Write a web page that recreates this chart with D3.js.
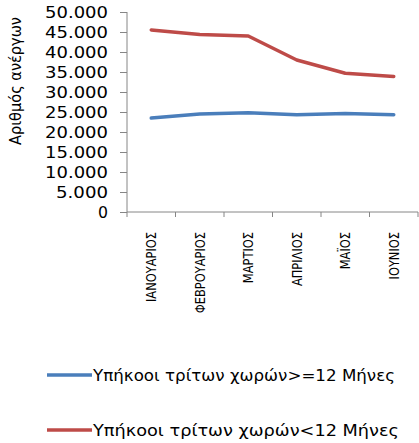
<!DOCTYPE html>
<html><head><meta charset="utf-8">
<script src="https://cdn.jsdelivr.net/npm/d3@7"></script>
<style>body{margin:0;background:#fff}svg{display:block}</style>
</head><body>
<script>
const months = ["ΙΑΝΟΥΑΡΙΟΣ","ΦΕΒΡΟΥΑΡΙΟΣ","ΜΑΡΤΙΟΣ","ΑΠΡΙΛΙΟΣ","ΜΑΪΟΣ","ΙΟΥΝΙΟΣ"];
const seriesLong = [23500, 24500, 24800, 24300, 24600, 24300];
const seriesShort = [45500, 44400, 44000, 38000, 34700, 33900];
const seriesNames = ["Υπήκοοι τρίτων χωρών>=12 Μήνες","Υπήκοοι τρίτων χωρών<12 Μήνες"];
const yTicks = [0,5000,10000,15000,20000,25000,30000,35000,40000,45000,50000];
const yTitle = "Αριθμός ανέργων";
const colors = ["#4A7EBB","#BE4B48"];

const W=419,H=443;
const svg=d3.select("body").append("svg").attr("width",W).attr("height",H);
const x=d3.scaleBand().domain(months).range([127,418]);
const y=d3.scaleLinear().domain([0,50000]).range([212,12]);
const axisColor="#868686";

const fmt=v=>d3.format(",")(v).replace(/,/g,".");
// y axis
const ya=svg.append("g").attr("transform","translate(127,0)")
  .call(d3.axisLeft(y).tickValues(yTicks).tickSize(7).tickPadding(0).tickFormat(fmt));
ya.select(".domain").attr("stroke",axisColor).attr("d","M0,12V212");
ya.selectAll(".tick line").attr("stroke",axisColor);
ya.selectAll(".tick text").remove();
ya.selectAll(".tick").append("text")
  .attr("x",-19).attr("y",0).attr("dy","0.36em").attr("text-anchor","end")
  .attr("fill","#000").attr("font-family","DejaVu Sans").attr("font-size",15.5)
  .text(d=>fmt(d)).each(function(d){
    const s=fmt(d); const w=s.length===1?10:(s.length===5?52:63);
    d3.select(this).attr("textLength",w).attr("lengthAdjust","spacingAndGlyphs");
  });

// x axis
const xa=svg.append("g").attr("transform","translate(0,212)")
  .call(d3.axisBottom(x).tickSize(0).tickFormat(""));
xa.select(".domain").attr("stroke",axisColor).attr("d","M127,0H418");
const tickPos=months.map(m=>x(m)).concat([x.range()[1]]);
xa.selectAll(".sep").data(tickPos).enter().append("line").attr("class","sep")
  .attr("x1",d=>d).attr("x2",d=>d).attr("y1",0).attr("y2",5).attr("stroke",axisColor);
const ml=svg.append("g").selectAll("text").data(months).enter().append("text")
  .attr("transform",d=>`translate(${x(d)+x.bandwidth()/2+5},232) rotate(-90)`)
  .attr("text-anchor","end").attr("font-family","DejaVu Sans Condensed, DejaVu Sans, sans-serif")
  .attr("font-size",14).attr("font-weight",500).attr("fill","#000").text(d=>d);
const base=ml.nodes()[0].getComputedTextLength();
const k=70/base;
ml.each(function(){const L=this.getComputedTextLength();d3.select(this).attr("textLength",L*k).attr("lengthAdjust","spacingAndGlyphs");});

// y title
svg.append("text").attr("transform","translate(21,81) rotate(-90)")
  .attr("text-anchor","middle").attr("font-family","DejaVu Sans").attr("font-size",15.5)
  .attr("textLength",128).attr("lengthAdjust","spacingAndGlyphs").text(yTitle);

// lines
const line=d3.line().x((d,i)=>x(months[i])+x.bandwidth()/2).y(d=>y(d));
[seriesLong,seriesShort].forEach((s,i)=>{
  svg.append("path").datum(s).attr("d",line).attr("fill","none")
    .attr("stroke",colors[i]).attr("stroke-width",3.5).attr("stroke-linecap","round").attr("stroke-linejoin","round");
});

// legend
const leg=[{y:375},{y:430}];
seriesNames.forEach((n,i)=>{
  svg.append("line").attr("x1",47).attr("x2",92).attr("y1",leg[i].y).attr("y2",leg[i].y)
    .attr("stroke",colors[i]).attr("stroke-width",3.5);
  svg.append("text").attr("x",93).attr("y",leg[i].y).attr("dy","0.36em")
    .attr("font-family","DejaVu Sans").attr("font-size",15.5).attr("fill","#000")
    .attr("textLength",i===0?302:306).attr("lengthAdjust","spacingAndGlyphs").text(n);
});
</script>
</body></html>
